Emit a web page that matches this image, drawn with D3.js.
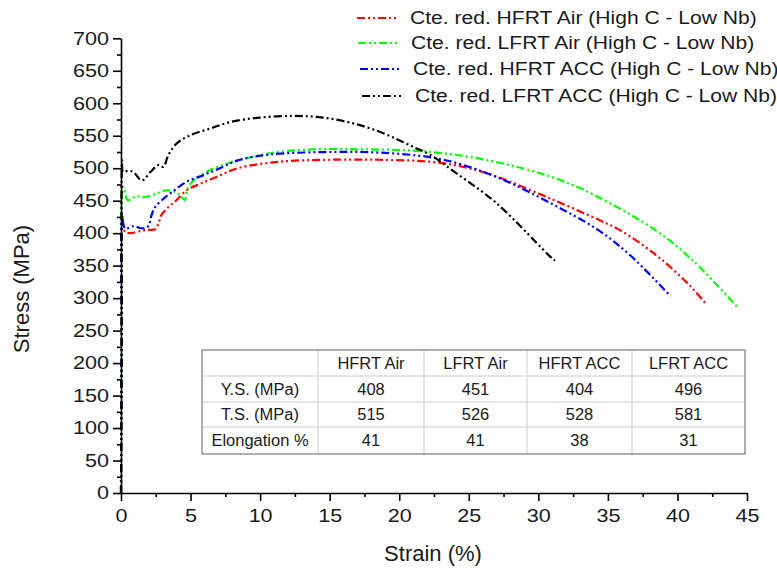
<!DOCTYPE html>
<html>
<head>
<meta charset="utf-8">
<script src="https://cdn.jsdelivr.net/npm/d3@7"></script>
<style>
  html, body { margin: 0; padding: 0; background: #fff; }
  svg { display: block; font-family: "Liberation Sans", Arial, sans-serif; }
</style>
</head>
<body>
<svg id="chart" width="777" height="570"></svg>
<script>
// Engineering stress-strain curves (strain in %, stress in MPa)
const hfrtAirStrain = [0, 0.05, 0.1, 0.3, 0.65, 1.35, 1.85, 2.45, 2.7, 2.9, 3.4, 4.0, 4.7, 5.7, 6.9, 8.4, 11.4, 15.0, 18.6, 22.2, 24.6, 27.0, 30.9, 34.5, 36.0, 38.6, 41.0, 42.05];
const hfrtAirStress = [0, 250, 425, 402, 400, 403, 405, 406, 415, 428, 440, 451, 466, 476, 487, 500, 510, 513, 513, 510, 502, 487, 453, 419, 403, 364, 317, 291];

const lfrtAirStrain = [0, 0.05, 0.15, 0.5, 1.1, 1.6, 2.55, 3.25, 3.95, 4.35, 4.6, 4.75, 5.2, 6.4, 7.6, 8.4, 10.7, 13.8, 17.4, 21.0, 24.6, 27.7, 30.9, 34.0, 38.6, 41.2, 44.4];
const lfrtAirStress = [0, 250, 471, 451, 457, 455, 461, 466, 463, 456, 451, 466, 481, 497, 507, 512, 523, 529, 529, 527, 519, 506, 487, 459, 402, 356, 284];

const hfrtAccStrain = [0, 0.05, 0.1, 0.3, 0.9, 1.35, 1.75, 2.0, 2.2, 2.45, 3.05, 3.65, 4.7, 5.9, 7.1, 8.4, 10.7, 15.0, 18.6, 22.2, 24.6, 27.5, 30.9, 34.3, 36.7, 39.5];
const hfrtAccStress = [0, 250, 420, 407, 411, 408, 408, 412, 428, 440, 453, 463, 479, 489, 500, 512, 521, 525, 524, 517, 505, 482, 446, 405, 364, 303];

const lfrtAccStrain = [0, 0.05, 0.08, 0.15, 0.5, 0.9, 1.5, 2.1, 2.7, 3.05, 3.4, 4.0, 5.0, 6.4, 7.85, 10.0, 12.5, 14.5, 16.7, 18.6, 20.1, 21.3, 22.2, 24.0, 27.0, 31.0, 31.2];
const lfrtAccStress = [0, 250, 512, 494, 496, 494, 481, 494, 505, 502, 520, 538, 551, 561, 571, 578, 580.5, 578, 569, 556, 542, 530, 521, 494, 446, 361, 358];

const seriesNames = [
  "Cte. red. HFRT Air (High C - Low Nb)",
  "Cte. red. LFRT Air (High C - Low Nb)",
  "Cte. red. HFRT ACC (High C - Low Nb)",
  "Cte. red. LFRT ACC (High C - Low Nb)"
];
const seriesColors = ["#ff0000", "#00ff00", "#0000ff", "#000000"];

// Summary table of mechanical properties
const tableHeader = ["", "HFRT Air", "LFRT Air", "HFRT ACC", "LFRT ACC"];
const tableRowLabels = ["Y.S. (MPa)", "T.S. (MPa)", "Elongation %"];
const yieldStrength = [408, 451, 404, 496];
const tensileStrength = [515, 526, 528, 581];
const elongation = [41, 41, 38, 31];

// Axis ticks
const xMajorTicks = [0, 5, 10, 15, 20, 25, 30, 35, 40, 45];
const xMinorTicks = [2.5, 7.5, 12.5, 17.5, 22.5, 27.5, 32.5, 37.5, 42.5];
const yMajorTicks = [0, 50, 100, 150, 200, 250, 300, 350, 400, 450, 500, 550, 600, 650, 700];
const yMinorTicks = [25, 75, 125, 175, 225, 275, 325, 375, 425, 475, 525, 575, 625, 675];

const series = [
  [hfrtAirStrain, hfrtAirStress],
  [lfrtAirStrain, lfrtAirStress],
  [hfrtAccStrain, hfrtAccStress],
  [lfrtAccStrain, lfrtAccStress]
].map(([sx, sy], i) => ({
  name: seriesNames[i],
  color: seriesColors[i],
  points: sx.map((v, j) => ({ x: v, y: sy[j] }))
}));

const svg = d3.select("#chart");
const x = d3.scaleLinear().domain([0, 45]).range([121, 747]);
const y = d3.scaleLinear().domain([0, 700]).range([493, 38.3]);

const dashPattern = "8,3,2,3,2,3";

// Widen glyphs horizontally by a factor (the chart's lettering is set wide)
function widen(sel, f) {
  sel.each(function () {
    const w = this.getComputedTextLength();
    this.setAttribute("textLength", (w * f).toFixed(1));
    this.setAttribute("lengthAdjust", "spacingAndGlyphs");
  });
}

// Curves
const line = d3.line()
  .x(d => x(d.x))
  .y(d => y(d.y))
  .curve(d3.curveCatmullRom.alpha(0.5));

svg.append("g").selectAll("path")
  .data(series)
  .join("path")
  .attr("d", d => line(d.points))
  .attr("fill", "none")
  .attr("stroke", d => d.color)
  .attr("stroke-width", 2.2)
  .attr("stroke-dasharray", dashPattern);

// Axes
function styleAxis(g) {
  g.selectAll("path, line").attr("stroke", "#000").attr("stroke-width", 1.6);
  g.selectAll("text").attr("fill", "#1a1a1a").attr("font-size", 18)
    .attr("font-family", '"Liberation Sans", Arial, sans-serif');
}

svg.append("g")
  .attr("transform", `translate(0,${y(0)})`)
  .call(d3.axisBottom(x).tickValues(xMinorTicks).tickSize(4).tickSizeOuter(0).tickFormat(""))
  .call(g => g.select(".domain").remove())
  .call(styleAxis);
const xAxisG = svg.append("g")
  .attr("transform", `translate(0,${y(0)})`)
  .call(d3.axisBottom(x).tickValues(xMajorTicks).tickSize(8).tickSizeOuter(0).tickPadding(8))
  .call(styleAxis);

svg.append("g")
  .attr("transform", `translate(${x(0)},0)`)
  .call(d3.axisLeft(y).tickValues(yMinorTicks).tickSize(4).tickSizeOuter(0).tickFormat(""))
  .call(g => g.select(".domain").remove())
  .call(styleAxis);
const yAxisG = svg.append("g")
  .attr("transform", `translate(${x(0)},0)`)
  .call(d3.axisLeft(y).tickValues(yMajorTicks).tickSize(8).tickSizeOuter(0).tickPadding(4))
  .call(styleAxis);

widen(xAxisG.selectAll("text"), 1.2);
widen(yAxisG.selectAll("text"), 1.2);

// Axis titles
svg.append("text")
  .attr("x", 433).attr("y", 561)
  .attr("text-anchor", "middle")
  .attr("font-size", 22).attr("fill", "#1a1a1a")
  .text("Strain (%)");
svg.append("text")
  .attr("transform", "translate(29,289) rotate(-90)")
  .attr("text-anchor", "middle")
  .attr("font-size", 22).attr("fill", "#1a1a1a")
  .text("Stress (MPa)");

// Legend
const legendRows = [18, 43, 69, 96];
const legendShift = [0, 1, 3, 5];
const legend = svg.append("g").selectAll("g")
  .data(series)
  .join("g")
  .attr("transform", (d, i) => `translate(${357 + legendShift[i]},${legendRows[i]})`);
legend.append("line")
  .attr("x1", 0).attr("x2", 42).attr("y1", 0).attr("y2", 0)
  .attr("stroke", d => d.color).attr("stroke-width", 2.2)
  .attr("stroke-dasharray", dashPattern);
const legendText = legend.append("text")
  .attr("x", 53).attr("y", 0).attr("dy", "0.35em")
  .attr("font-size", 18).attr("fill", "#1a1a1a")
  .text(d => d.name);
widen(legendText, 1.17);

// Property table
const colEdges = [202, 318, 424, 527, 632, 745];
const rowEdges = [350, 376, 402, 427, 454];
const table = svg.append("g");
const tableCells = [tableHeader].concat(tableRowLabels.map((lab, r) =>
  [lab].concat([yieldStrength, tensileStrength, elongation][r])));

table.append("rect")
  .attr("x", colEdges[0]).attr("y", rowEdges[0])
  .attr("width", colEdges[5] - colEdges[0]).attr("height", rowEdges[4] - rowEdges[0])
  .attr("fill", "#fff");
table.selectAll("line.col")
  .data(colEdges.slice(1, -1))
  .join("line").attr("class", "col")
  .attr("x1", d => d).attr("x2", d => d)
  .attr("y1", rowEdges[0]).attr("y2", rowEdges[4])
  .attr("stroke", "#dcdcdc").attr("stroke-width", 1.5);
table.selectAll("line.row")
  .data(rowEdges.slice(1, -1))
  .join("line").attr("class", "row")
  .attr("x1", colEdges[0]).attr("x2", colEdges[5])
  .attr("y1", d => d).attr("y2", d => d)
  .attr("stroke", "#dcdcdc").attr("stroke-width", 1.5);
table.append("rect")
  .attr("x", colEdges[0]).attr("y", rowEdges[0])
  .attr("width", colEdges[5] - colEdges[0]).attr("height", rowEdges[4] - rowEdges[0])
  .attr("fill", "none").attr("stroke", "#7a7a7a").attr("stroke-width", 1.2);

tableCells.forEach((row, r) => {
  row.forEach((cell, c) => {
    const t = table.append("text")
      .attr("x", (colEdges[c] + colEdges[c + 1]) / 2)
      .attr("y", (rowEdges[r] + rowEdges[r + 1]) / 2)
      .attr("dy", "0.35em")
      .attr("text-anchor", "middle")
      .attr("font-size", 16).attr("fill", "#1a1a1a")
      .text(cell);
    widen(t, 1.03);
  });
});
</script>
</body>
</html>
